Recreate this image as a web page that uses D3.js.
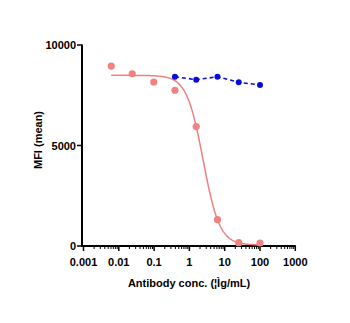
<!DOCTYPE html>
<html>
<head>
<meta charset="utf-8">
<script src="https://cdn.jsdelivr.net/npm/d3@7"></script>
<style>
  body { margin: 0; background: #fff; }
  svg text { font-family: "Liberation Sans", Arial, sans-serif; font-weight: bold; fill: #000; }
</style>
</head>
<body>
<svg id="chart" width="350" height="323"></svg>
<script>
// Antibody titration: four-fold dilution series
const concTest = [0.0061, 0.024, 0.098, 0.39, 1.5625, 6.25, 25, 100];
const mfiTest = [8950, 8570, 8160, 7750, 5940, 1310, 165, 150];
const concCtrl = [0.39, 1.5625, 6.25, 25, 100];
const mfiCtrl = [8420, 8275, 8420, 8145, 8010];
// Four-parameter logistic fit for the test antibody
const fitTop = 8490, fitBottom = 50, fitIC50 = 2.45, fitHill = 1.86;
const xTickValues = [0.001, 0.01, 0.1, 1, 10, 100, 1000];
const xTickLabels = ["0.001", "0.01", "0.1", "1", "10", "100", "1000"];
const yTickValues = [0, 5000, 10000];

const svg = d3.select("#chart");
const x = d3.scaleLog().domain([0.001, 1000]).range([83.5, 295.3]);
const y = d3.scaleLinear().domain([0, 10000]).range([246, 45]);
const axisX = 82, axisY = 246;

// minor log ticks
const minor = [];
for (let e = -3; e < 3; e++) for (let m = 2; m <= 9; m++) minor.push(m * Math.pow(10, e));

const gx = svg.append("g").attr("transform", `translate(0,${axisY})`);
gx.selectAll("line.minor").data(minor).join("line")
  .attr("x1", d => x(d)).attr("x2", d => x(d)).attr("y1", 0).attr("y2", 3)
  .attr("stroke", "#000").attr("stroke-width", 1);
gx.selectAll("line.major").data(xTickValues).join("line")
  .attr("x1", d => x(d)).attr("x2", d => x(d)).attr("y1", 0).attr("y2", 5)
  .attr("stroke", "#000").attr("stroke-width", 1.5);
gx.append("line").attr("x1", axisX).attr("x2", x(1000) + 0.5).attr("y1", 0).attr("y2", 0)
  .attr("stroke", "#000").attr("stroke-width", 2);
gx.selectAll("text").data(xTickValues).join("text")
  .attr("x", d => x(d)).attr("y", 20).attr("text-anchor", "middle")
  .attr("font-size", "11px").text((d, i) => xTickLabels[i]);

const gy = svg.append("g").attr("transform", `translate(${axisX},0)`);
gy.append("line").attr("x1", 0).attr("x2", 0).attr("y1", y(10000) - 0.5).attr("y2", axisY + 1)
  .attr("stroke", "#000").attr("stroke-width", 2);
gy.selectAll("line.tick").data(yTickValues).join("line")
  .attr("x1", -5).attr("x2", 0).attr("y1", d => y(d)).attr("y2", d => y(d))
  .attr("stroke", "#000").attr("stroke-width", 1.5);
gy.selectAll("text").data(yTickValues).join("text")
  .attr("x", -6).attr("y", d => y(d) + 4).attr("text-anchor", "end")
  .attr("font-size", "11px").text(d => d);

svg.append("text").attr("transform", "translate(42,140) rotate(-90)")
  .attr("text-anchor", "middle").attr("font-size", "11px").text("MFI (mean)");
svg.append("text").attr("x", 189).attr("y", 287).attr("text-anchor", "middle")
  .attr("font-size", "11px").text("Antibody conc. (¦Ìg/mL)");

// fitted curve
const curvePts = d3.range(0, 201).map(i => {
  const lx = Math.log10(concTest[0]) + i / 200 * (Math.log10(100) - Math.log10(concTest[0]));
  const c = Math.pow(10, lx);
  return [c, fitBottom + (fitTop - fitBottom) / (1 + Math.pow(c / fitIC50, fitHill))];
});
const line = d3.line().x(d => x(d[0])).y(d => y(d[1]));
svg.append("path").datum(curvePts).attr("d", line)
  .attr("fill", "none").attr("stroke", "#f08080").attr("stroke-width", 1.5);

svg.selectAll("circle.test").data(concTest).join("circle").attr("class", "test")
  .attr("cx", d => x(d)).attr("cy", (d, i) => y(mfiTest[i])).attr("r", 3.6)
  .attr("fill", "#f28282");

// control series, dashed connection
svg.append("path").datum(concCtrl.map((c, i) => [c, mfiCtrl[i]])).attr("d", line)
  .attr("fill", "none").attr("stroke", "#1010c8").attr("stroke-width", 1.6)
  .attr("stroke-dasharray", "4,3");
svg.selectAll("circle.ctrl").data(concCtrl).join("circle").attr("class", "ctrl")
  .attr("cx", d => x(d)).attr("cy", (d, i) => y(mfiCtrl[i])).attr("r", 3)
  .attr("fill", "#0a0ad8");
</script>
</body>
</html>
